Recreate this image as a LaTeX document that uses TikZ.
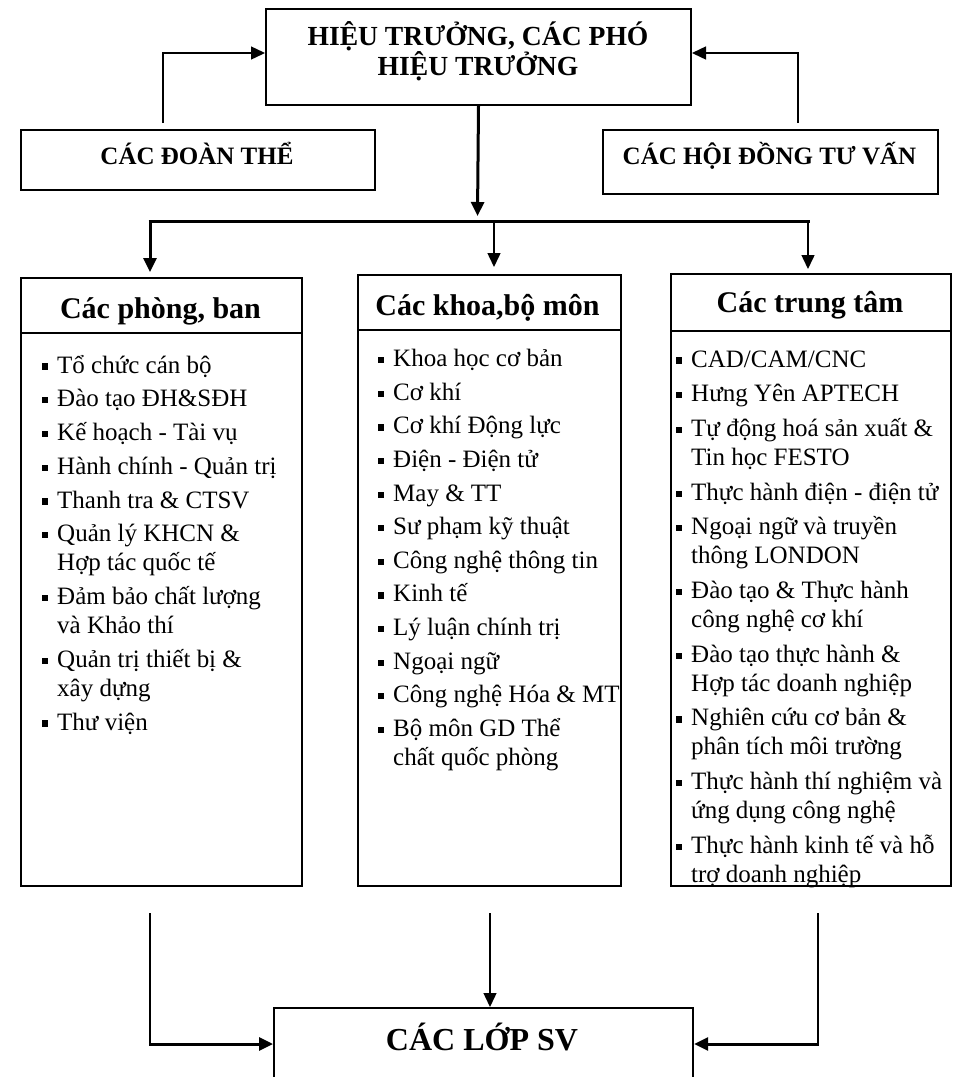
\documentclass[tikz,border=0pt]{standalone}
\usepackage{fontspec}
\setmainfont{Liberation Serif}
\usetikzlibrary{arrows.meta}
\newcommand\bul{\rule[3.4pt]{6.2pt}{6.2pt}}
\newcommand\itm[1]{\hangindent=15pt\hangafter=1\noindent\makebox[15pt][l]{\bul}#1\par}
\newdimen\itemgapdim
\newcommand\itmb[1]{\vskip\itemgapdim\itm{#1}}
\newcommand\colbody[2]{\vtop{\hsize=320pt\parindent=0pt\parskip=0pt\lineskiplimit=-20pt\baselineskip=29pt\itemgapdim=#1pt\rightskip=0pt plus 1fil #2}}
\tikzset{
  box/.style={draw, line width=1.6pt, inner sep=0pt, anchor=north west},
  lbl/.style={inner sep=0pt, anchor=base},
  tip/.style={-{Triangle[length=14pt,width=13pt]}},
  thinconn/.style={line width=1.4pt},
  thickconn/.style={line width=3pt},
  head/.style={lbl, font=\bfseries\fontsize{30}{34}\selectfont},
  items/.style={inner sep=0pt, anchor=base west, font=\fontsize{25}{29}\selectfont},
}
\begin{document}
\begin{tikzpicture}[x=1pt,y=-1pt]
\useasboundingbox (0,0) rectangle (957,1077);
\fill[white] (0,0) rectangle (957,1077);
\clip (0,0) rectangle (957,1077);

% top box
\node[box, line width=2pt, minimum width=425pt, minimum height=96pt] (ht) at (265,8) {};
\node[lbl, font=\bfseries\fontsize{27.6}{30}\selectfont] (httext1) at (478,45) {HIỆU TRƯỞNG, CÁC PHÓ};
\node[lbl, font=\bfseries\fontsize{27.6}{30}\selectfont] (httext2) at (478,75) {HIỆU TRƯỞNG};

% side boxes
\node[box, minimum width=354pt, minimum height=60pt] (dt) at (20,129) {};
\node[lbl, font=\bfseries\fontsize{25}{30}\selectfont] (dttext) at (197,164) {CÁC ĐOÀN THỂ};
\node[box, minimum width=335pt, minimum height=64pt] (hd) at (602,129) {};
\node[lbl, font=\bfseries\fontsize{25}{30}\selectfont] (hdtext) at (769.5,164) {CÁC HỘI ĐỒNG TƯ VẤN};

\coordinate (lstart) at (163,123);
\coordinate (rstart) at (798,123);
\draw[thinconn, tip] (lstart) |- ([yshift=4pt]ht.west);
\draw[thinconn, tip] (rstart) |- ([yshift=4pt]ht.east);

% main arrow and bar
\coordinate (hub) at (477.5,216);
\draw[thickconn, tip] (ht.south) -- (hub);
\coordinate (barL) at (150,221);
\coordinate (barM) at (494,221);
\coordinate (barR) at (808,221);
\draw[thickconn] ([xshift=-1.5pt]barL) -- ([xshift=1.5pt]barR);
\coordinate (tipL) at (150,272);
\coordinate (tipM) at (494,267);
\coordinate (tipR) at (808,269);
\draw[thickconn, tip] (barL) -- (tipL);
\draw[line width=1.5pt, tip] (barM) -- (tipM);
\draw[line width=1.5pt, tip] (barR) -- (tipR);

% column boxes
\node[box, minimum width=281pt, minimum height=608pt] (lcol) at (20,277) {};
\node[box, minimum width=263pt, minimum height=611pt] (mcol) at (357,274) {};
\node[box, minimum width=280pt, minimum height=612pt] (rcol) at (670,273) {};
\draw[line width=2pt] (lcol.west |- 0,333) -- (lcol.east |- 0,333);
\draw[line width=1.6pt] (mcol.west |- 0,330) -- (mcol.east |- 0,330);
\draw[line width=2pt] (rcol.west |- 0,331) -- (rcol.east |- 0,331);

\node[head] (lhead) at (160.5,318) {Các phòng, ban};
\node[head] (mhead) at (487.5,315) {Các khoa,bộ môn};
\node[head] (rhead) at (810,312) {Các trung tâm};

\node[items] (litems) at (42,373) {\colbody{4.75}{%
\itm{Tổ chức cán bộ}
\itmb{Đào tạo ĐH\&SĐH}
\itmb{Kế hoạch - Tài vụ}
\itmb{Hành chính - Quản trị}
\itmb{Thanh tra \& CTSV}
\itmb{Quản lý KHCN \&\\Hợp tác quốc tế}
\itmb{Đảm bảo chất lượng\\và Khảo thí}
\itmb{Quản trị thiết bị \&\\xây dựng}
\itmb{Thư viện}}};

\node[items] (mitems) at (378,366.7) {\colbody{4.6}{%
\itm{Khoa học cơ bản}
\itmb{Cơ khí}
\itmb{Cơ khí Động lực}
\itmb{Điện - Điện tử}
\itmb{May \& TT}
\itmb{Sư phạm kỹ thuật}
\itmb{Công nghệ thông tin}
\itmb{Kinh tế}
\itmb{Lý luận chính trị}
\itmb{Ngoại ngữ}
\itmb{Công nghệ Hóa \& MT}
\itmb{Bộ môn GD Thể\\chất quốc phòng}}};

\node[items] (ritems) at (676,367) {\colbody{5.7}{%
\itm{CAD/CAM/CNC}
\itmb{Hưng Yên APTECH}
\itmb{Tự động hoá sản xuất \&\\Tin học FESTO}
\itmb{Thực hành điện - điện tử}
\itmb{Ngoại ngữ và truyền\\thông LONDON}
\itmb{Đào tạo \& Thực hành\\công nghệ cơ khí}
\itmb{Đào tạo thực hành \&\\Hợp tác doanh nghiệp}
\itmb{Nghiên cứu cơ bản \&\\phân tích môi trường}
\itmb{Thực hành thí nghiệm và\\ứng dụng công nghệ}
\itmb{Thực hành kinh tế và hỗ\\trợ doanh nghiệp}}};

% bottom box
\node[box, line width=2.2pt, minimum width=419pt, minimum height=100pt] (sv) at (273,1007) {};
\node[lbl, font=\bfseries\fontsize{32}{36}\selectfont] (svtext) at (482,1050) {CÁC LỚP SV};

\coordinate (bl) at (150,913);
\coordinate (bm) at (490,913);
\coordinate (br) at (818,913);
\coordinate (blc) at (150,1044);
\coordinate (brc) at (818,1044);
\draw[line width=1.3pt] (bl) -- (blc);
\draw[line width=1.3pt] (br) -- (brc);
\draw[thickconn, tip] ([xshift=-0.65pt]blc) -- (sv.west |- blc);
\draw[thickconn, tip] ([xshift=0.65pt]brc) -- (sv.east |- brc);
\draw[line width=1.3pt, tip] (bm) -- (sv.north -| bm);
\end{tikzpicture}
\end{document}
